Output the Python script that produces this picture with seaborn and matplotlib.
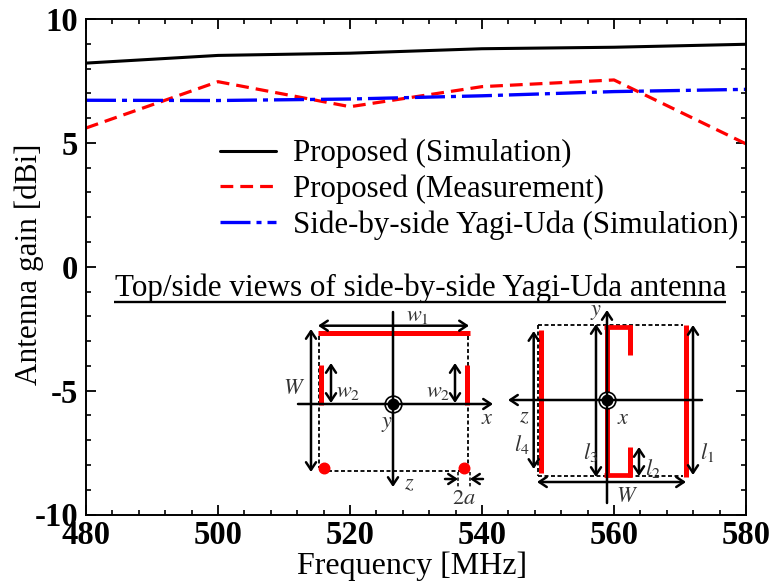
import matplotlib
matplotlib.use("Agg")
import matplotlib.pyplot as plt
import pandas as pd
import seaborn as sns

# Values
freq = [480, 500, 520, 540, 560, 580]
sim_gain = [8.22, 8.53, 8.62, 8.80, 8.86, 8.98]
meas_gain = [5.6, 7.47, 6.46, 7.27, 7.54, 4.96]
yagi_gain = [6.72, 6.71, 6.77, 6.9, 7.07, 7.16]
x_ticks = [480, 500, 520, 540, 560, 580]
y_ticks = [-10, -5, 0, 5, 10]
y_labels = ["-10", "-5", "0", "5", "10"]

sns.set_theme(style="ticks")
plt.rcParams["font.family"] = ["Liberation Serif", "DejaVu Serif"]
plt.rcParams["mathtext.fontset"] = "stix"
plt.rcParams["text.color"] = "black"
plt.rcParams["axes.labelcolor"] = "black"
plt.rcParams["xtick.color"] = "black"
plt.rcParams["ytick.color"] = "black"
plt.rcParams["axes.edgecolor"] = "black"

W, H = 775, 583
fig = plt.figure(figsize=(W / 100, H / 100), dpi=100)
ax = fig.add_axes([86 / W, 1 - 514.5 / H, 660 / W, 495.5 / H])

df = pd.DataFrame({"freq": freq, "sim": sim_gain, "meas": meas_gain, "yagi": yagi_gain})
sns.lineplot(data=df, x="freq", y="sim", color="black", lw=2.2, ax=ax, label="Proposed (Simulation)")
sns.lineplot(data=df, x="freq", y="meas", color="red", lw=2.3, ax=ax, label="Proposed (Measurement)",
             linestyle=(0, (4, 2.2)))
sns.lineplot(data=df, x="freq", y="yagi", color="blue", lw=2.4, ax=ax, label="Side-by-side Yagi-Uda (Simulation)",
             linestyle=(0, (9, 1.8, 1.5, 1.8)))

ax.set_xlim(480, 580)
ax.set_ylim(-10, 10)
ax.set_xticks(x_ticks)
ax.set_yticks(y_ticks)
ax.set_yticklabels(y_labels)
ax.set_xticks(range(480, 581, 4), minor=True)
ax.set_yticks(range(-10, 11, 1), minor=True)
ax.tick_params(which="major", direction="in", length=7, width=1.3, top=True, right=True)
ax.tick_params(which="minor", direction="in", length=3.6, width=1.2, top=True, right=True)
ax.tick_params(axis="x", which="major", pad=4)
ax.tick_params(axis="y", which="major", pad=5.5)
for lab in ax.get_xticklabels() + ax.get_yticklabels():
    lab.set_fontsize(23.5)
    lab.set_fontweight("bold")
for s in ax.spines.values():
    s.set_linewidth(1.4)
ax.set_xlabel("Frequency [MHz]", fontsize=23)
ax.set_ylabel("Antenna gain [dBi]", fontsize=22.5)
ax.xaxis.set_label_coords(0.494, -0.075)
ax.yaxis.set_label_coords(-0.064, 0.505)

ax.legend(loc="upper left", bbox_to_anchor=(0.203, 0.758), frameon=False, fontsize=22.25,
          handlelength=1.8, handletextpad=0.55, labelspacing=0.2, borderpad=0, borderaxespad=0)

# Overlay in pixel coordinates for the antenna sketch
ov = fig.add_axes([0, 0, 1, 1])
ov.set_xlim(0, W)
ov.set_ylim(H, 0)
ov.axis("off")
ov.patch.set_alpha(0)


def line(x0, y0, x1, y1, c="black", lw=1.8, ls="-"):
    ov.plot([x0, x1], [y0, y1], color=c, lw=lw, ls=ls, solid_capstyle="butt")


def arrow(x0, y0, x1, y1, style="->"):
    ov.annotate("", xy=(x1, y1), xytext=(x0, y0),
                arrowprops=dict(arrowstyle=style + ",head_width=0.3,head_length=0.45", color="black",
                                lw=1.8, shrinkA=0, shrinkB=0))


def label(x, y, s, size=16):
    ov.text(x, y, s, fontsize=size, ha="center", va="center", color="#333333")


def target(x, y):
    ov.plot([x], [y], "o", ms=12, mfc="white", mec="black", mew=1.2)
    ov.plot([x], [y], "o", ms=7.5, color="black")


ov.text(420.5, 288, "Top/side views of side-by-side Yagi-Uda antenna", fontsize=22.4,
        ha="center", va="center", color="black")
line(114, 302, 726, 302, lw=1.7)

dash = (0, (2.2, 1.4))
# left view
line(319, 336, 319, 468, lw=1.3, ls=dash)
line(468, 336, 468, 468, lw=1.3, ls=dash)
line(328, 471, 460, 471, lw=1.3, ls=dash)
line(458, 472, 458, 487, lw=1.1, ls=dash)
line(470, 472, 470, 487, lw=1.1, ls=dash)
line(318, 333, 470, 333, c="red", lw=3.6)
line(320.5, 365, 320.5, 405, c="red", lw=3.6)
line(466.5, 365, 466.5, 405, c="red", lw=3.6)
ov.plot([323.7, 464], [467.7, 467.7], "o", color="red", ms=7.6, ls="none")
arrow(318, 325.7, 469, 325.7, "<->")
arrow(311, 329, 311, 472, "<->")
arrow(331, 363, 331, 403, "<->")
arrow(455, 363, 455, 403, "<->")
arrow(393, 312, 393, 487)
arrow(298, 404, 493, 404)
arrow(445, 479, 458, 479)
arrow(483, 479, 470, 479)
target(393, 404)
label(417, 316, "$w_1$")
label(348, 393, "$w_2$")
label(438, 392, "$w_2$")
label(294, 390, "$W$")
label(387, 425, "$y$")
label(487, 420, "$x$")
label(409, 485, "$z$")
label(464, 499, "$2a$")

# right view
line(538, 325, 683, 325, lw=1.3, ls=dash)
line(538, 476, 683, 476, lw=1.3, ls=dash)
line(538, 325, 538, 476, lw=1.3, ls=dash)
line(540.5, 330, 540.5, 473, c="red", lw=3.6)
line(685.5, 325, 685.5, 477, c="red", lw=3.6)
line(606.5, 325, 606.5, 477, c="red", lw=3.6)
line(604, 327, 632, 327, c="red", lw=3.4)
line(604, 474.5, 632, 474.5, c="red", lw=3.4)
line(629.5, 325, 629.5, 355, c="red", lw=3.6)
line(629.5, 447, 629.5, 477, c="red", lw=3.6)
arrow(533.7, 331, 533.7, 469, "<->")
arrow(596, 324, 596, 477, "<->")
arrow(693, 325, 693, 475, "<->")
arrow(639, 447, 639, 476, "<->")
arrow(537, 482, 686, 482, "<->")
arrow(607, 503, 607, 310)
arrow(702, 400, 508, 400)
target(607, 400)
label(596, 312, "$y$")
label(623, 419, "$x$")
label(524, 418, "$z$")
label(522, 445, "$l_4$")
label(590, 453, "$l_3$")
label(653, 468, "$l_2$")
label(707, 453, "$l_1$")
label(627, 497, "$W$")

fig.savefig("out.png", dpi=100, facecolor="white")
